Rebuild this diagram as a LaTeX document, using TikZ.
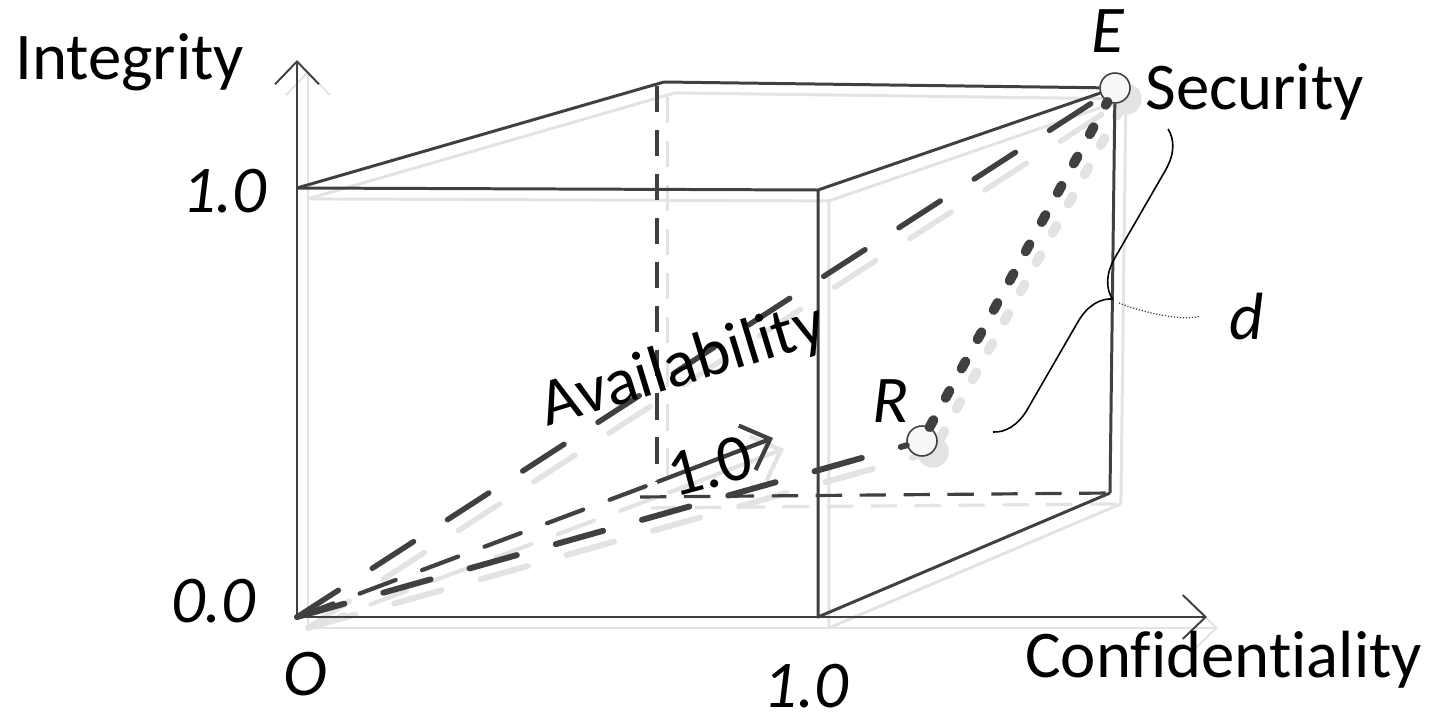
\documentclass[tikz,border=0pt]{standalone}
\usepackage{fontspec}
\setmainfont{Carlito}[Ligatures={NoCommon}]
\usepackage{tikz}
\usetikzlibrary{arrows.meta, decorations.pathreplacing}

\colorlet{ink}{black!75}
\colorlet{paper}{white!97!black}
\colorlet{shadowgray}{black!11}

% the sketch itself, drawn once as shadow and once on top
\newcommand{\cubesketch}{%
  % points
  \node[dot_mark] (Edot) at (E) {};
  \node[dot_mark] (Rdot) at (R) {};
  % axes
  \draw[axis_line] (O) -- (integ_tip);
  \draw[axis_line] (O) -- (conf_tip);
  % visible edges
  \draw[cube_edge] (ftl) -- (ftr) -- (fbr) -- (bbr);
  \draw[cube_edge] (ftl) -- (btl);
  \draw[cube_edge] (btl) -- (Edot);
  \draw[cube_edge] (ftr) -- (Edot);
  \draw[cube_edge] (Edot) -- (bbr);
  % hidden edges
  \draw[hidden_edge] (btl_low) -- (bbl);
  \draw[hidden_edge] (bbl_low) -- (bbr);
  % availability axis
  \draw[avail_dash] (O) -- (bbl);
  \draw[avail_arrow] (bbl) -- (avail_tip);
  % vectors
  \draw[vec_line] (O) -- (Edot);
  \draw[vec_line, line width=3.4pt] (O) -- (Rdot);
  \draw[dist_line] (Rdot) -- (Edot);
}

\begin{document}
\begin{tikzpicture}[
    x=0.02cm, y=-0.02cm,
    txt/.style={inner sep=0pt, font=\fontsize{38pt}{44pt}\selectfont},
    num/.style={txt, font=\fontsize{38pt}{44pt}\selectfont\itshape},
    axis_line/.style={draw=ink, line width=1.1pt, -{Straight Barb[length=13pt, width=25pt]}},
    cube_edge/.style={draw=ink, line width=1.7pt, line join=round},
    hidden_edge/.style={draw=ink, line width=1.8pt, dash pattern=on 15pt off 10pt},
    avail_dash/.style={draw=ink, line width=2.4pt, line cap=round, dash pattern=on 22pt off 16pt},
    avail_arrow/.style={draw=ink, line width=2.4pt, -{Straight Barb[length=14pt, width=27pt]}},
    vec_line/.style={draw=ink, line width=3.1pt, line cap=round, dash pattern=on 28pt off 23pt},
    dist_line/.style={draw=ink, line width=5.6pt, line cap=round, dash pattern=on 4.6pt off 14.4pt},
    dot_mark/.style={circle, draw=ink, fill=paper, line width=0.9pt, minimum size=0.6cm, inner sep=0pt},
    brace_line/.style={draw=black, line width=0.9pt, decorate, decoration={brace, amplitude=21pt}}
]
\useasboundingbox (0,0) rectangle (1437,713);

% corners and axis ends (pixel grid)
\coordinate (O) at (297,617);
\coordinate (integ_tip) at (297,60);
\coordinate (conf_tip) at (1207,617);
\coordinate (ftl) at (297,188);
\coordinate (ftr) at (818,190);
\coordinate (fbr) at (818,617);
\coordinate (btl) at (664,82);
\coordinate (btl_low) at (657,86);
\coordinate (bbl) at (657,482);
\coordinate (bbl_low) at (640,497);
\coordinate (bbr) at (1110,493);
\coordinate (avail_tip) at (773,438);
\coordinate (E) at (1115,88);
\coordinate (R) at (922,441);

% shadow pass
\begin{scope}[transform canvas={xshift=6.2pt, yshift=-6.2pt}]
  \colorlet{ink}{shadowgray}
  \colorlet{paper}{shadowgray}
  \cubesketch
\end{scope}
% ink pass
\cubesketch

% distance d
\coordinate (brace_top) at (1168,129);
\coordinate (brace_bot) at (993,432);
\draw[brace_line] (brace_top) -- (brace_bot);
\coordinate (d_from) at (1119,303);
\coordinate (d_to) at (1200,316);
\draw[ink, line width=0.7pt, densely dotted] (d_from) .. controls +(30,12) and +(-12,5) .. (d_to);

% labels
\node[txt, anchor=base west] (integ_lbl) at (15,80) {Integrity};
\node[num, anchor=base east] (one_i) at (267,213) {1.0};
\node[num, anchor=base east] (zero_lbl) at (256,622) {0.0};
\node[num, anchor=base] (o_lbl) at (305,695) {O};
\node[num, anchor=base] (one_c) at (806,707) {1.0};
\node[txt, anchor=base west] (conf_lbl) at (1025,677) {Confidentiality};
\node[txt, anchor=base west] (sec_lbl) at (1145,110) {Security};
\node[num, anchor=base] (e_lbl) at (1108,53) {E};
\node[num, anchor=base] (r_lbl) at (891,422) {R};
\node[num, anchor=base] (d_lbl) at (1247,339) {d};
\node[txt, anchor=base west, rotate=17] (avail_lbl) at (547,427) {Availability};
\node[txt, anchor=base west, rotate=15] (one_a) at (674,498) {1.0};

\end{tikzpicture}
\end{document}
